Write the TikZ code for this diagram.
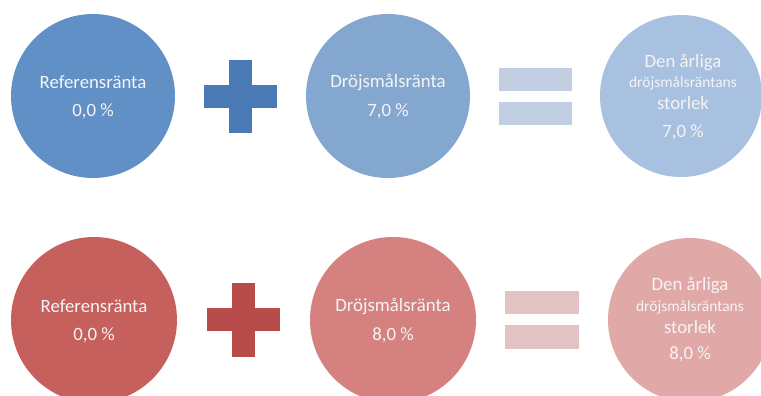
\documentclass[tikz,border=0pt]{standalone}
\usepackage{fontspec}
\setmainfont{Carlito}
\definecolor{bA}{HTML}{6190C6}
\definecolor{bP}{HTML}{4A7AB5}
\definecolor{bB}{HTML}{84A7D0}
\definecolor{bE}{HTML}{C2CFE3}
\definecolor{bC}{HTML}{A8C1E0}
\definecolor{rA}{HTML}{C5605D}
\definecolor{rP}{HTML}{B84C4A}
\definecolor{rB}{HTML}{D48180}
\definecolor{rE}{HTML}{E3C2C3}
\definecolor{rC}{HTML}{E0A8A7}
\definecolor{txt}{HTML}{F4F4F4}
\begin{document}
\begin{tikzpicture}[x=1pt,y=-1pt,
  disc/.style={circle,inner sep=0pt,minimum size=164pt,draw=none},
  big/.style={text=txt,font=\fontsize{18.8}{20}\selectfont,inner sep=0pt},
  small/.style={text=txt,font=\fontsize{15.5}{18}\selectfont,inner sep=0pt}]
\useasboundingbox (0,0) rectangle (761,396);
\clip (0,0) rectangle (761,396);
% top row
\node[disc,fill=bA] (t1) at (93,96) {};
\fill[bP] (229,60) rectangle (252,133);
\fill[bP] (204,85) rectangle (277,108);
\node[disc,fill=bB] (t2) at (388,96) {};
\fill[bE] (499,68) rectangle (572,91);
\fill[bE] (499,102) rectangle (572,125);
\node[disc,fill=bC,minimum size=162pt] (t3) at (681,96) {};
\node[big] (t1a) at (93,82) {Referensränta};
\node[big] (t1b) at (93,111) {0,0 \%};
\node[big] (t2a) at (388,82) {Dröjsmålsränta};
\node[big] (t2b) at (388,111) {7,0 \%};
\node[big] (t3a) at (683,62) {Den årliga};
\node[small] (t3b) at (683,83) {dröjsmålsräntans};
\node[big] (t3c) at (683,103) {storlek};
\node[big] (t3d) at (683,132) {7,0 \%};
% bottom row
\node[disc,fill=rA,minimum size=166pt] (b1) at (94,320) {};
\fill[rP] (232,283) rectangle (255,357);
\fill[rP] (207,308) rectangle (280,331);
\node[disc,fill=rB,minimum size=166pt] (b2) at (393,320) {};
\fill[rE] (505,291) rectangle (579,314);
\fill[rE] (505,325) rectangle (579,349);
\node[disc,fill=rC,minimum size=164pt] (b3) at (690,320) {};
\node[big] (b1a) at (94,306) {Referensränta};
\node[big] (b1b) at (94,335) {0,0 \%};
\node[big] (b2a) at (393,306) {Dröjsmålsränta};
\node[big] (b2b) at (393,335) {8,0 \%};
\node[big] (b3a) at (690,285) {Den årliga};
\node[small] (b3b) at (690,307) {dröjsmålsräntans};
\node[big] (b3c) at (690,327) {storlek};
\node[big] (b3d) at (690,354) {8,0 \%};
\end{tikzpicture}
\end{document}
